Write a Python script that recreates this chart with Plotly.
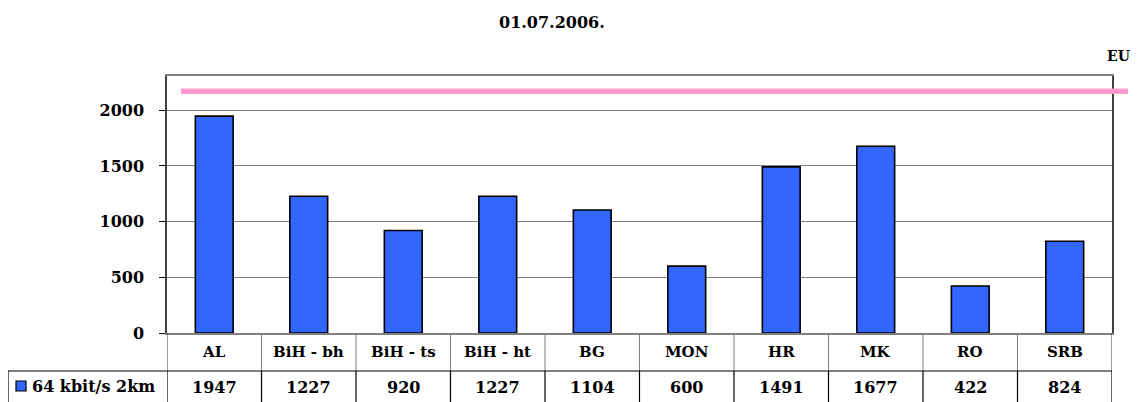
import plotly.graph_objects as go

categories = ["AL", "BiH - bh", "BiH - ts", "BiH - ht", "BG", "MON", "HR", "MK", "RO", "SRB"]
values = [1947, 1227, 920, 1227, 1104, 600, 1491, 1677, 422, 824]
series_name = "64 kbit/s 2km"
eu_value = 2170
eu_label = "EU"
title_text = "01.07.2006."
y_ticks = [0, 500, 1000, 1500, 2000]

# page layout (the page body adds an 8px offset)
OFF = 8
PAGE_W, PAGE_H = 1139, 402
W, H = PAGE_W - OFF, PAGE_H - OFF
L, R, T, B = 167, 1112, 76, 333   # plot area in page pixels
pw, ph = R - L, B - T

def px(xp):
    return (xp - L) / pw

def py(yp):
    return (B - yp) / ph

FONT = "DejaVu Serif"
BAR_COLOR = "#3366FF"

fig = go.Figure()
fig.add_trace(go.Bar(
    x=list(range(len(categories))), y=values, width=0.4,
    marker=dict(color=BAR_COLOR, line=dict(color="#000000", width=1.6)),
    name=series_name, showlegend=False,
))

n = len(categories)
shapes = []
# EU reference line
shapes.append(dict(type="line", xref="paper", yref="y", x0=px(181), x1=px(1128),
                   y0=eu_value, y1=eu_value, line=dict(color="#FF99CC", width=5.5), layer="above"))
# table lines
row1_bottom = py(371)
row2_bottom = py(415)
for k in range(n + 1):
    xk = k - 0.5
    shapes.append(dict(type="line", xref="x", yref="paper", x0=xk, x1=xk, y0=0, y1=row1_bottom,
                       line=dict(color="#808080" if 0 < k < n else "#404040", width=1)))
    shapes.append(dict(type="line", xref="x", yref="paper", x0=xk, x1=xk, y0=row1_bottom, y1=row2_bottom,
                       line=dict(color="#000000", width=1.2)))
shapes.append(dict(type="line", xref="paper", yref="paper", x0=px(8), x1=1, y0=row1_bottom, y1=row1_bottom,
                   line=dict(color="#000000", width=1.2)))
shapes.append(dict(type="line", xref="paper", yref="paper", x0=px(8), x1=px(8), y0=row1_bottom, y1=row2_bottom,
                   line=dict(color="#000000", width=1.2)))
# legend key
shapes.append(dict(type="rect", xref="paper", yref="paper", x0=px(16), x1=px(26), y0=py(381), y1=py(391),
                   fillcolor=BAR_COLOR, line=dict(color="#000000", width=1.2)))

def ann(text, x, y, size, xref="paper", xanchor="center"):
    return dict(text=text, xref=xref, yref="paper", x=x, y=y, xanchor=xanchor, yanchor="middle",
                showarrow=False, font=dict(family=FONT, size=size, color="#000", weight="bold"))

annotations = [
    ann(title_text, px(552), py(22), 16),
    ann(eu_label, px(1132), py(56), 14, xanchor="right"),
]
for i, (c, v) in enumerate(zip(categories, values)):
    annotations.append(ann(c, i, py(352), 15, xref="x"))
    annotations.append(ann(str(v), i, py(387), 16, xref="x"))
annotations.append(ann(series_name, px(30), py(386), 16, xanchor="left"))

fig.update_layout(
    width=W, height=H,
    margin=dict(l=L - OFF, r=W - (R - OFF), t=T - OFF, b=H - (B - OFF), pad=0, autoexpand=False),
    paper_bgcolor="white", plot_bgcolor="white",
    showlegend=False,
    shapes=shapes, annotations=annotations,
    xaxis=dict(range=[-0.5, n - 0.5], showticklabels=False, showgrid=False, zeroline=False,
               showline=True, linecolor="#808080", linewidth=1.5, mirror=True, ticks=""),
    yaxis=dict(range=[0, 2307], tickvals=y_ticks, showgrid=True, gridcolor="#808080", gridwidth=1,
               zeroline=False, showline=True, linecolor="#404040", linewidth=1.5, mirror=True,
               ticks="outside", ticklen=6, tickcolor="#000", tickwidth=1, ticklabelstandoff=12,
               tickfont=dict(family=FONT, size=16, color="#000", weight="bold")),
)
fig.write_html("out.html")
